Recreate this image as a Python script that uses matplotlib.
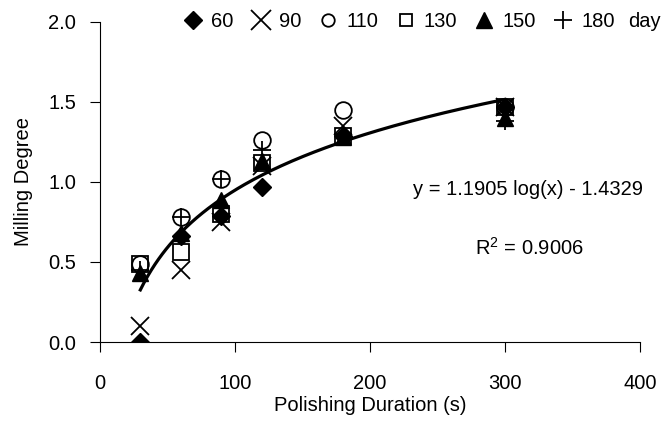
import numpy as np
import matplotlib
matplotlib.use('Agg')
import matplotlib.pyplot as plt
from matplotlib.lines import Line2D

plt.rcParams['font.family'] = ['Liberation Sans', 'DejaVu Sans']
plt.rcParams['mathtext.default'] = 'regular'
plt.rcParams['font.size'] = 14.5

# polishing duration (s)
duration = [30, 60, 90, 120, 180, 300]

# milling degree for each storage age (days)
d60 = [0.00, 0.66, 0.79, 0.97, 1.29, 1.47]
d90 = [0.10, 0.45, 0.75, 1.10, 1.35, 1.47]
d110 = [0.49, 0.78, 1.02, 1.26, 1.45, 1.47]
d130 = [0.49, 0.56, 0.80, 1.12, 1.29, 1.47]
d150 = [0.43, 0.68, 0.89, 1.13, 1.28, 1.40]
d180 = [0.45, 0.78, 1.02, 1.20, 1.30, 1.38]
days = ['60', '90', '110', '130', '150', '180']

# logarithmic trendline shown on the chart
slope = 1.1905
intercept = -1.4329
r2 = 0.9006

fig = plt.figure(figsize=(6.7, 4.48), dpi=100)
ax = fig.add_axes([0.149, 0.2366, 0.806, 0.7144])

styles = [
    dict(marker='D', ms=9, color='black'),
    dict(marker='x', ms=13, color='black', mew=1.3),
    dict(marker='o', ms=12, color='black', mfc='none', mew=1.3),
    dict(marker='s', ms=12, color='black', mfc='none', mew=1.3),
    dict(marker='^', ms=12, color='black'),
    dict(marker='+', ms=13, color='black', mew=1.3),
]
legend_ms = [9.5, 14, 9, 9, 12, 13]

for vals, st in zip([d60, d90, d110, d130, d150, d180], styles):
    ax.plot(duration, vals, linestyle='none', **st)

xs = np.linspace(duration[0], duration[-1], 200)
ax.plot(xs, slope * np.log10(xs) + intercept, color='black', lw=2.3, zorder=5)

ax.set_xlim(0, 400)
ax.set_ylim(0, 2.0)
ax.set_xticks([0, 100, 200, 300, 400])
ax.set_yticks([0.0, 0.5, 1.0, 1.5, 2.0])
ax.set_yticklabels(['0.0', '0.5', '1.0', '1.5', '2.0'])
ax.spines['top'].set_visible(False)
ax.spines['right'].set_visible(False)
ax.tick_params(axis='x', direction='out', length=7, pad=16)
ax.tick_params(axis='y', direction='out', length=7, pad=10)
ax.set_xlabel('Polishing Duration (s)', labelpad=2)
ax.set_ylabel('Milling Degree', labelpad=11)

ax.text(232, 0.95, 'y = %.4f log(x) - %.4f' % (slope, -intercept),
        ha='left', va='center', fontsize=14.5)
ax.text(278, 0.59, 'R$^2$ = %.4f' % r2, ha='left', va='center', fontsize=14.5)

handles = []
for st, ms in zip(styles, legend_ms):
    kw = dict(st)
    kw['ms'] = ms
    handles.append(Line2D([], [], linestyle='none', **kw))
fig.legend(handles, days, loc='center left', bbox_to_anchor=(0.273, 0.951),
           ncol=6, frameon=False, handletextpad=0.4, columnspacing=0.85,
           handlelength=1.0, borderaxespad=0, borderpad=0)
fig.text(0.937, 0.953, 'day', ha='left', va='center')

fig.savefig('out.png', dpi=100)
